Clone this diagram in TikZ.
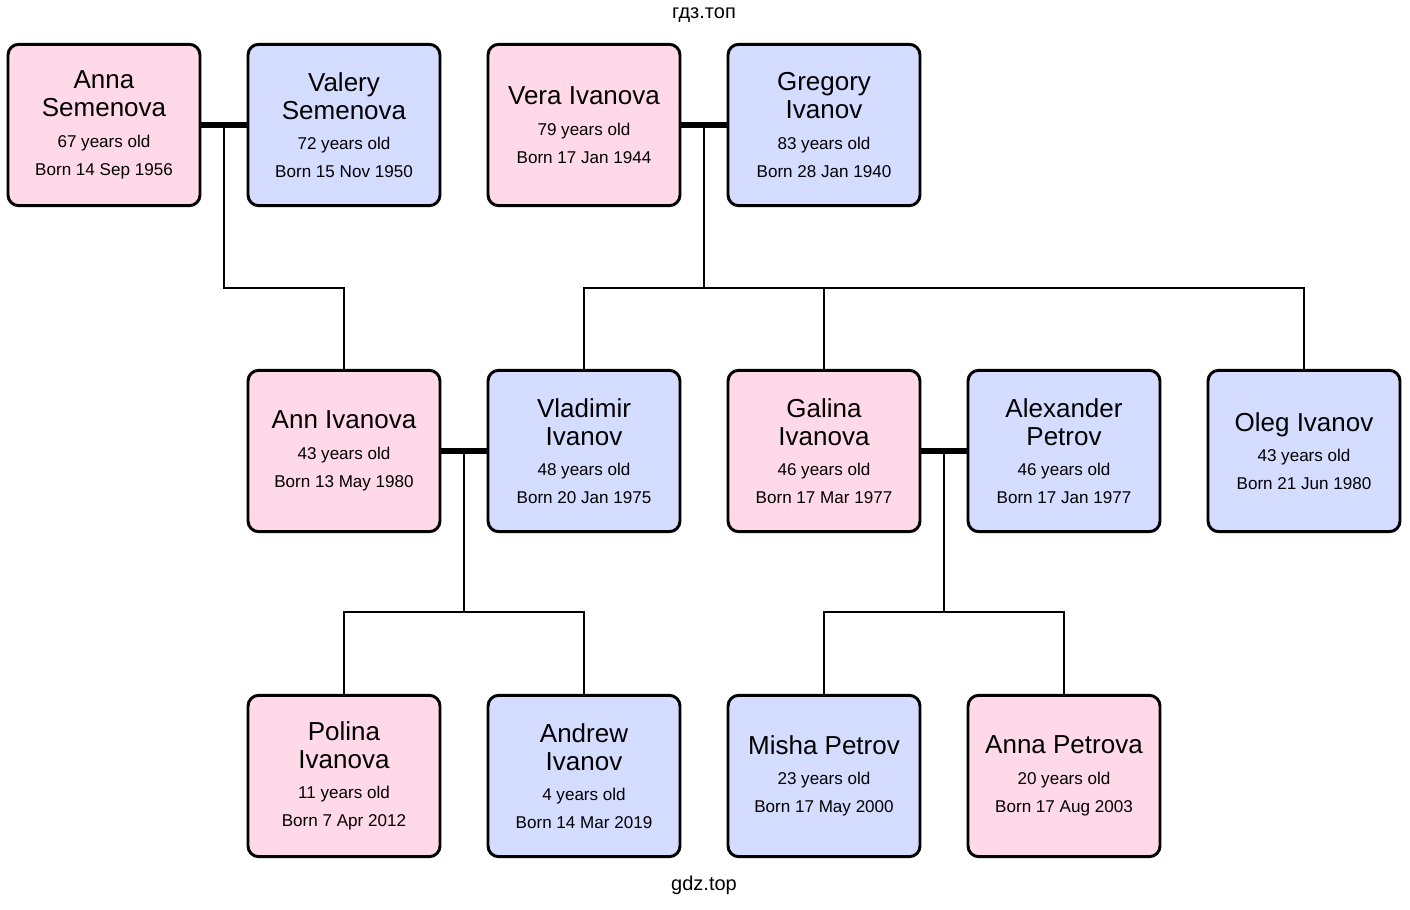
\documentclass[tikz,border=0pt]{standalone}
\usepackage{fontspec}
\setmainfont{Liberation Sans}
\usetikzlibrary{calc}
\definecolor{pinkbox}{RGB}{255,217,232}
\definecolor{bluebox}{RGB}{212,220,255}
\newcommand{\smallsz}{\fontsize{12.8}{14}\selectfont}
\newcommand{\lifeline}[2]{\\[2pt]\smallsz #1 years old\\\smallsz Born #2}
\tikzset{
  person/.style={draw,line width=2.2pt,rounded corners=8pt,minimum width=144pt,minimum height=121pt,
    align=center,inner sep=2pt,font=\fontsize{19.5}{21}\selectfont},
  she/.style={person,fill=pinkbox},
  he/.style={person,fill=bluebox},
  couple/.style={line width=4.5pt},
  kin/.style={line width=1.6pt}
}
\begin{document}
\begin{tikzpicture}[x=0.75pt,y=0.75pt,yscale=-1,xscale=1]
\useasboundingbox (0,0) rectangle (1410,910);

\node [font=\fontsize{15}{17}\selectfont] (wtop) at (704,15) {гдз.топ};
\node [font=\fontsize{15}{17}\selectfont] (wbot) at (704,885) {gdz.top};

% top row
\node [she] (anna) at (104,125) {Anna\\Semenova\lifeline{67}{14 Sep 1956}};
\node [he] (valery) at (344,125) {Valery\\Semenova\lifeline{72}{15 Nov 1950}};
\node [she] (vera) at (584,125) {Vera Ivanova\lifeline{79}{17 Jan 1944}};
\node [he] (gregory) at (824,125) {Gregory\\Ivanov\lifeline{83}{28 Jan 1940}};

% middle row
\node [she] (ann) at (344,451) {Ann Ivanova\lifeline{43}{13 May 1980}};
\node [he] (vladimir) at (584,451) {Vladimir\\Ivanov\lifeline{48}{20 Jan 1975}};
\node [she] (galina) at (824,451) {Galina\\Ivanova\lifeline{46}{17 Mar 1977}};
\node [he] (alexander) at (1064,451) {Alexander\\Petrov\lifeline{46}{17 Jan 1977}};
\node [he] (oleg) at (1304,451) {Oleg Ivanov\lifeline{43}{21 Jun 1980}};

% bottom row
\node [she] (polina) at (344,776) {Polina\\Ivanova\lifeline{11}{7 Apr 2012}};
\node [he] (andrew) at (584,776) {Andrew\\Ivanov\lifeline{4}{14 Mar 2019}};
\node [he] (misha) at (824,776) {Misha Petrov\lifeline{23}{17 May 2000}};
\node [she] (annap) at (1064,776) {Anna Petrova\lifeline{20}{17 Aug 2003}};

% couples
\draw [couple] (anna.east) -- (valery.west);
\draw [couple] (vera.east) -- (gregory.west);
\draw [couple] (ann.east) -- (vladimir.west);
\draw [couple] (galina.east) -- (alexander.west);

\coordinate (semenovs) at (224,125);
\coordinate (ivanovs) at (704,125);
\coordinate (vladfam) at (464,451);
\coordinate (petrovs) at (944,451);
\coordinate (bar1) at (704,288);
\coordinate (bar2) at (464,612);
\coordinate (bar3) at (944,612);

% children
\draw [kin] (semenovs) |- (ann.north |- bar1) -- (ann.north);
\draw [kin] (ivanovs) -- (bar1);
\draw [kin] (vladimir.north) |- (oleg.north |- bar1) -- (oleg.north);
\draw [kin] (galina.north) -- (galina.north |- bar1);
\draw [kin] (vladfam) -- (bar2);
\draw [kin] (polina.north) |- (andrew.north |- bar2) -- (andrew.north);
\draw [kin] (petrovs) -- (bar3);
\draw [kin] (misha.north) |- (annap.north |- bar3) -- (annap.north);
\end{tikzpicture}
\end{document}
